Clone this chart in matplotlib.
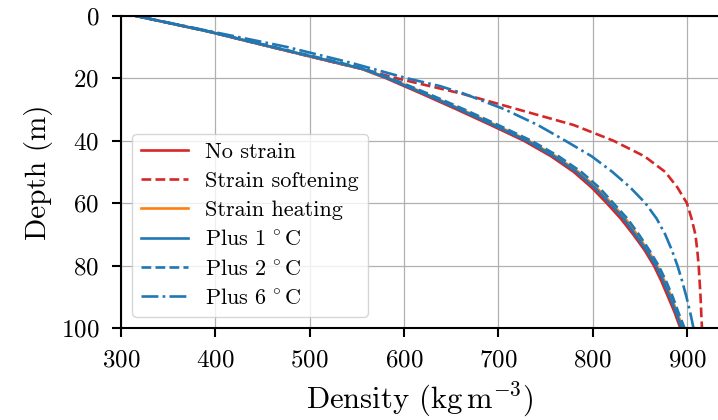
import numpy as np
import matplotlib
matplotlib.use('Agg')
import matplotlib.pyplot as plt

# depth grid (m) and density profiles (kg m^-3)
depth = [0, 5, 10, 15, 17, 20, 22.5, 25, 30, 35, 40, 45, 50, 55, 60, 65, 70, 75, 80, 85, 90, 95, 100]

no_strain = [315, 392, 459, 527, 555, 581, 600, 619, 656, 692, 727, 756, 780, 799, 815, 830, 843, 855, 865, 873, 880, 887, 893]
strain_softening = [315, 392, 459, 527, 555, 592, 627, 662, 721, 780, 822, 855, 877, 890, 900, 905, 909, 911, 912.5, 913.5, 914.5, 915.2, 916]
strain_heating = [315, 392, 460, 529, 556, 584, 604, 623, 661, 697, 732, 761, 785, 804, 820, 835, 847, 858.5, 868.5, 876.5, 883.5, 889.5, 896]
plus_1 = [315, 392, 460, 529, 556, 583, 602, 622, 659, 695, 730, 759, 783, 802, 818, 833, 845, 857, 867, 875, 882, 888.5, 894.5]
plus_2 = [315, 393, 462, 532, 558, 586, 606, 626, 664, 700, 735, 764, 788, 807, 822, 837, 849, 860, 870, 878, 885, 891, 897.5]
plus_6 = [315, 395, 476, 543, 567, 603, 638, 664, 707, 742, 771, 799, 821, 840, 856, 868, 877, 884, 890, 895, 899.5, 903.5, 907]

plt.rcParams['font.family'] = 'serif'
plt.rcParams['font.serif'] = ['cmr10']
plt.rcParams['mathtext.fontset'] = 'cm'
plt.rcParams['axes.formatter.use_mathtext'] = True

fig = plt.figure(figsize=(7.18, 4.2), dpi=100)
ax = fig.add_axes([0.1685, 0.219, 0.8315, 0.7435])

lw = 1.9
ax.plot(no_strain, depth, color='tab:red', lw=lw, label='No strain')
ax.plot(strain_softening, depth, color='tab:red', lw=lw, ls='--', label='Strain softening')
ax.plot(strain_heating, depth, color='tab:orange', lw=lw, label='Strain heating')
ax.plot(plus_1, depth, color='tab:blue', lw=lw, label=r'Plus $1\,^\circ\mathrm{C}$')
ax.plot(plus_2, depth, color='tab:blue', lw=lw, ls='--', label=r'Plus $2\,^\circ\mathrm{C}$')
ax.plot(plus_6, depth, color='tab:blue', lw=lw, ls='-.', label=r'Plus $6\,^\circ\mathrm{C}$')

ax.set_xlim(300, 933)
ax.set_ylim(100, 0)
ax.set_xticks(np.arange(300, 901, 100))
ax.set_yticks(np.arange(0, 101, 20))
ax.grid(True, color='#b0b0b0', lw=0.9)
ax.set_axisbelow(True)

ax.spines['right'].set_visible(False)
for s in ['top', 'left', 'bottom']:
    ax.spines[s].set_linewidth(1.5)
ax.tick_params(axis='both', direction='out', length=6.5, width=1.5, labelsize=18)
ax.tick_params(axis='x', pad=9)
ax.tick_params(axis='y', pad=9)

ax.set_xlabel(r'Density ($\mathrm{kg\,m^{-3}}$)', fontsize=22, labelpad=6)
ax.set_ylabel('Depth (m)', fontsize=21, labelpad=6)

ax.legend(loc='lower left', fontsize=16, framealpha=0.8, borderaxespad=0.5,
          handlelength=2.1, labelspacing=0.42)

fig.savefig('out.png', dpi=100)
